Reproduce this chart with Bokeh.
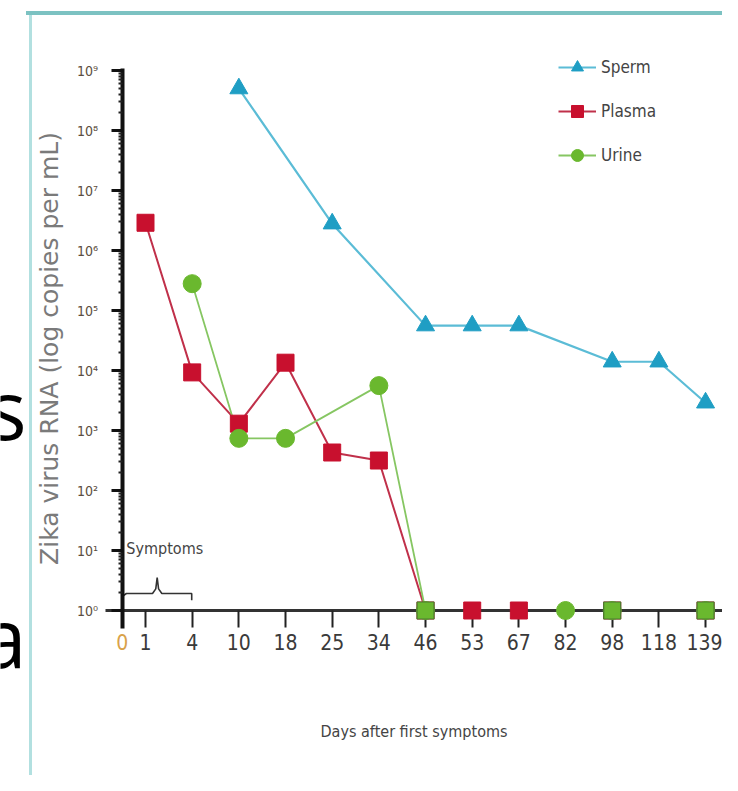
from bokeh.plotting import figure
from bokeh.models import FixedTicker, Range1d, Legend, LegendItem, Label
from bokeh.embed import file_html
from bokeh.resources import INLINE

# ---------------- data ----------------
day_ticks = [0, 1, 4, 10, 18, 25, 34, 46, 53, 67, 82, 98, 118, 139]

sperm_days = [10, 25, 46, 53, 67, 98, 118, 139]
sperm_vals = [5.0e8, 2.8e6, 5.6e4, 5.6e4, 5.6e4, 1.4e4, 1.4e4, 2.9e3]

plasma_days = [1, 4, 10, 18, 25, 34, 46, 53, 67, 98, 139]
plasma_vals = [2.9e6, 9.3e3, 1.3e3, 1.35e4, 430, 316, 1, 1, 1, 1, 1]

urine_days = [4, 10, 18, 34, 46, 82, 98, 139]
urine_vals = [2.8e5, 740, 740, 5.6e3, 1, 1, 1, 1]

y_exponents = list(range(0, 10))
symptom_span = (0, 4)

# category-like positions of the day ticks ("0" sits half a step left of "1")
pos = {d: (0.5 if i == 0 else float(i)) for i, d in enumerate(day_ticks)}
def px(days):
    return [pos[d] for d in days]

FONT_N = "DejaVu Sans Condensed"
SPERM_L, SPERM_M = "#5bbcd6", "#1f9ec4"
PLASMA_L, PLASMA_M = "#c0304a", "#c8102e"
URINE_L, URINE_M = "#86c662", "#6ab82e"

# the frame fills the whole canvas; both axes are pinned inside it
p = figure(width=722, height=775, output_backend="svg", toolbar_location=None,
           y_axis_type="log",
           x_range=Range1d(-2.107, 13.363), y_range=Range1d(10 ** -2.75, 10 ** 10.167),
           min_border=0)
p.outline_line_color = None
p.grid.grid_line_color = None
p.background_fill_alpha = 0
p.border_fill_alpha = 0
# page frame of the original figure (teal rules)
p.styles = {
    "background-color": "white",
    "background-image": "linear-gradient(#7cc2c2,#7cc2c2), linear-gradient(#b2e0e0,#b2e0e0)",
    "background-size": "700px 4px, 3px 770px",
    "background-position": "26px 11px, 29px 13px",
    "background-repeat": "no-repeat",
}

# ---- x axis on the 10^0 line ----
xa = p.xaxis[0]
xa.fixed_location = 1
xa.bounds = (0.143, 13.85)
xa.ticker = FixedTicker(ticks=[pos[d] for d in day_ticks], minor_ticks=[])
xa.major_label_overrides = {pos[d]: (" " if d == 0 else str(d)) for d in day_ticks}
xa.axis_line_color = "#333333"
xa.axis_line_width = 3
xa.major_tick_line_color = "#222222"
xa.major_tick_line_width = 2
xa.major_tick_out = 17
xa.major_tick_in = 0
xa.minor_tick_line_color = None
xa.major_label_text_font = FONT_N
xa.major_label_text_font_size = "21px"
xa.major_label_text_color = "#3a3a3a"
xa.major_label_standoff = 3
xa.axis_label = "Days after first symptoms"
xa.axis_label_text_font = FONT_N
xa.axis_label_text_font_size = "16px"
xa.axis_label_text_font_style = "normal"
xa.axis_label_text_color = "#444444"
xa.axis_label_standoff = 64

# ---- y axis at day 0 ----
ya = p.yaxis[0]
ya.fixed_location = pos[0]
ya.bounds = (10 ** -0.3, 10 ** 9.03)
ya.ticker = FixedTicker(ticks=[10 ** e for e in y_exponents],
                        minor_ticks=[k * 10 ** e for e in y_exponents[:-1] for k in range(2, 10)])
sup = str.maketrans("0123456789", "⁰¹²³⁴⁵⁶⁷⁸⁹")
ya.major_label_overrides = {10 ** e: "10" + str(e).translate(sup) for e in y_exponents}
ya.axis_line_color = "#111111"
ya.axis_line_width = 4
ya.major_tick_line_color = "#111111"
ya.major_tick_line_width = 3
ya.major_tick_out = 11
ya.major_tick_in = 0
ya.minor_tick_line_color = "#222222"
ya.minor_tick_line_width = 2
ya.minor_tick_out = 4
ya.minor_tick_in = 0
ya.major_label_text_font = FONT_N
ya.major_label_text_font_size = "14px"
ya.major_label_text_color = "#5c4d40"
ya.major_label_standoff = 13
ya.axis_label = "Zika virus RNA (log copies per mL)"
ya.axis_label_text_font = "DejaVu Sans"
ya.axis_label_text_font_size = "25px"
ya.axis_label_text_font_style = "normal"
ya.axis_label_text_color = "#7a7a7a"
ya.axis_label_standoff = 10

# ---- series ----
r_sl = p.line(px(sperm_days), sperm_vals, line_color=SPERM_L, line_width=2.2)
r_sm = p.scatter(px(sperm_days), sperm_vals, marker="triangle", size=18,
                 fill_color=SPERM_M, line_color=SPERM_M, level="annotation")

r_pl = p.line(px(plasma_days), plasma_vals, line_color=PLASMA_L, line_width=2)
r_pm = p.scatter(px(plasma_days), plasma_vals, marker="square", size=17,
                 fill_color=PLASMA_M, line_color=PLASMA_M, level="annotation")

r_ul = p.line(px(urine_days), urine_vals, line_color=URINE_L, line_width=1.8)
r_um = p.scatter(px(urine_days), urine_vals, marker="circle", size=18,
                 fill_color=URINE_M, line_color=URINE_M, level="annotation")

# where plasma and urine are both undetectable the marks coincide
both = [d for d, v in zip(plasma_days, plasma_vals) if v == 1 and d in urine_days
        and urine_vals[urine_days.index(d)] == 1]
p.scatter(px(both), [1] * len(both), marker="square", size=17,
          fill_color=URINE_M, line_color="#4a7a30", line_width=1.2, level="annotation")

legend = Legend(items=[LegendItem(label="Sperm", renderers=[r_sl, r_sm]),
                       LegendItem(label="Plasma", renderers=[r_pl, r_pm]),
                       LegendItem(label="Urine", renderers=[r_ul, r_um])],
                location=(558, 605), orientation="vertical",
                glyph_width=38, glyph_height=30, spacing=14, padding=0, margin=0,
                label_standoff=5, label_text_font=FONT_N, label_text_font_size="17px",
                label_text_color="#444444", border_line_color=None,
                background_fill_alpha=0)
p.add_layout(legend, "center")

# ---- symptoms brace ----
x0, x1 = pos[symptom_span[0]], pos[symptom_span[1]]
xm = (x0 + x1) / 2
yl, yt, ye = 10 ** 0.283, 10 ** 0.55, 10 ** 0.17
p.line([x0 + 0.03, x0 + 0.09, xm - 0.1, xm - 0.03, xm, xm + 0.03, xm + 0.1, x1 - 0.06, x1 - 0.01, x1 - 0.01],
       [10 ** 0.25, yl, yl, 10 ** 0.36, yt, 10 ** 0.36, yl, yl, yl, ye],
       line_color="#333333", line_width=1.6)
p.add_layout(Label(x=x0 + 0.09, y=10 ** 1.03, text="Symptoms", text_font=FONT_N,
                   text_font_size="16px", text_color="#444444", text_baseline="middle"))

# orange "0" tick label
p.add_layout(Label(x=pos[0], y=10 ** -0.53, text="0", text_font=FONT_N,
                   text_font_size="21px", text_color="#d9a24a",
                   text_align="center", text_baseline="middle"))

# fragments of the slide text behind the figure
for ch, yc in (("s", 10 ** 3.37), ("a", 10 ** -0.417)):
    p.add_layout(Label(x=-2.107, x_offset=26, y=yc, text=ch,
                       text_font="Open Sans", text_font_size="82px", text_color="black",
                       text_align="right", text_baseline="middle"))

open("out.html", "w").write(file_html(p, INLINE))
